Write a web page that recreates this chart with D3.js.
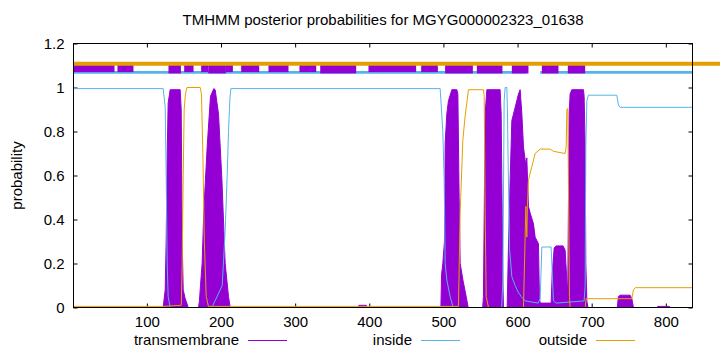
<!DOCTYPE html>
<html><head><meta charset="utf-8">
<script src="https://cdn.jsdelivr.net/npm/d3@7/dist/d3.min.js"></script>
<style>
body{margin:0;background:#fff}
text{font-family:"Liberation Sans",Arial,sans-serif;font-size:15px;fill:#000}
</style>
</head><body>
<svg id="chart" width="720" height="352"></svg>
<script>
const chartTitle = "TMHMM posterior probabilities for MGYG000002323_01638";
const yAxisTitle = "probability";
const seqRange = [1, 836];
const xTicks = [100, 200, 300, 400, 500, 600, 700, 800];
const yTicks = [0, 0.2, 0.4, 0.6, 0.8, 1, 1.2];
const yTickLabels = ["0", "0.2", "0.4", "0.6", "0.8", "1", "1.2"];
const legendLabels = ["transmembrane", "inside", "outside"];

// posterior probabilities: [position, probability]
const insideProb = [[1,0.995],[122,0.995],[124.7,0.91],[126,0.6],[127.4,0.2],[128.7,0.05],[131.4,0],[187.7,0],[201.6,0.1],[205.6,0.35],[208.3,0.6],[210.1,0.8],[212,0.95],[213.3,0.995],[495.6,0.995],[499.2,0.8],[501,0.58],[502.4,0.2],[504.6,0.125],[509.1,0.05],[513.1,0],[578.6,0],[580.2,0.12],[581.9,0.94],[583.3,1.0],[585.6,1.0],[586.4,0.88],[587.7,0.58],[589.1,0.27],[592.3,0.14],[596.8,0.1],[600.8,0.07],[604.9,0.05],[610.3,0.03],[627.8,0.02],[630.5,0.04],[632.8,0.275],[645.3,0.275],[648.4,0.03],[652.1,0.02],[689.8,0.03],[691.2,0.1],[692.1,0.73],[693.5,0.94],[695.6,0.965],[733.9,0.965],[736.1,0.92],[738.4,0.91],[836,0.91]];
const outsideProb = [[1,0.005],[122,0.005],[146.4,0.01],[147.6,0.2],[149,0.6],[150.3,0.9],[152,0.97],[154,1.0],[171.9,1.0],[173.6,0.97],[175.5,0.7],[177.5,0.3],[180,0.05],[183,0.005],[520.3,0.005],[522.6,0.43],[526.2,0.76],[529.3,0.87],[533.8,0.99],[554,0.99],[555,0.96],[556.3,0.43],[557.7,0.05],[560.8,0],[608,0],[611.2,0.46],[612.5,0.32],[613.3,0.46],[614.7,0.58],[619.3,0.64],[623.7,0.70],[630.5,0.72],[644,0.72],[648.4,0.71],[664.2,0.70],[665.6,0.73],[666.5,0.9],[667.8,0.905],[668.6,0.58],[670,0.05],[670.9,0],[691.2,0],[692.5,0.04],[754.2,0.04],[756.3,0.08],[758.6,0.09],[836,0.09]];
const tmProb = [[1,0],[121.9,0],[123.3,0.04],[124.7,0.08],[126,0.3],[127.4,0.7],[128.7,0.93],[131.4,0.99],[144.9,0.99],[146.3,0.9],[147.6,0.3],[149,0.08],[151.7,0.04],[154.4,0.015],[155.7,0],[169.6,0],[170.9,0.03],[172.3,0.1],[174.5,0.2],[176.7,0.43],[181.3,0.73],[185.8,0.96],[190.3,0.995],[192.1,0.99],[196.6,0.88],[201.2,0.58],[205.6,0.2],[210.1,0.05],[212.4,0],[385,0],[386,0.01],[396,0.01],[397,0],[496.6,0],[497.5,0.15],[499.2,0.2],[501.4,0.3],[502.4,0.75],[504.6,0.88],[506.8,0.94],[511.4,0.99],[518.1,0.99],[519.5,0.97],[521.2,0.5],[522.6,0.2],[526.6,0.12],[530.7,0.05],[533.4,0],[553,0],[554,0.05],[556.3,0.88],[558.6,0.99],[576.5,0.99],[577.9,0.88],[580.2,0.12],[581,0],[586,0],[587.7,0.27],[590,0.58],[592.3,0.85],[596.8,0.91],[601.2,0.97],[603.5,0.99],[605.8,0.88],[608,0.73],[611,0.65],[612.5,0.68],[614.7,0.46],[617,0.43],[621.5,0.38],[623.7,0.32],[628.2,0.29],[629.5,0.05],[630.5,0.02],[645.3,0.02],[646.7,0.15],[649.4,0.27],[652.1,0.28],[661.5,0.28],[664.2,0.26],[666.9,0.1],[667.8,0.1],[669.6,0.88],[670.9,0.97],[673.2,0.99],[688.9,0.99],[689.8,0.96],[691.2,0.73],[692.1,0.2],[693.5,0.03],[695,0],[734.6,0],[736,0.05],[738.4,0.056],[751.9,0.056],[754.2,0.04],[756.3,0],[788,0],[789,0.005],[805,0.005],[806,0],[836,0]];

// topology annotation along the top: [start, end]
const topoOutsideSpans = [[1, 880]];
const topoInsideSpans = [[1, 612.4], [630.5, 836]];
const topoTMSpans = [[129.1,145.9],[182.7,206.6],[333.8,382.3],[502.3,539.7],[545.1,579.6],[592.3,614.7],[632.8,655.2],[667.8,691.2]];
const topoOtherSpans = [[1,56.3],[60.3,81.9],[150.3,162.9],[173.2,182.7],[206.6,216],[227.2,251.5],[264,291],[305.8,328.4],[398.9,463.2],[470,492.5]];
const topoLevels = {outside: 1.108, inside: 1.069, boxLow: 1.070, boxHigh: 1.104, tmLow: 1.064, tmHigh: 1.113};

const colors = {tm: "#9400d3", inside: "#56b4e9", outside: "#e69f00"};

const svg = d3.select("#chart");
const L = 73.5, R = 692.5, T = 43.5, B = 307.5;
const x = d3.scaleLinear().domain(seqRange).range([L, R]);
const y = d3.scaleLinear().domain([0, 1.2]).range([B, T]);

svg.append("defs").append("clipPath").attr("id", "plotclip")
  .append("rect").attr("x", L).attr("y", T).attr("width", R - L).attr("height", B - T);

// title
svg.append("text").attr("x", (L + R) / 2).attr("y", 25).attr("text-anchor", "middle").text(chartTitle);
// y axis title
svg.append("text").attr("transform", `translate(22,${(T + B) / 2}) rotate(-90)`)
  .attr("text-anchor", "middle").text(yAxisTitle);

// axes with inward ticks (mirrored)
const xAxis = svg.append("g").attr("transform", `translate(0,${B})`)
  .call(d3.axisBottom(x).tickValues(xTicks).tickSizeInner(-4).tickSizeOuter(0).tickPadding(9));
const xAxisTop = svg.append("g").attr("transform", `translate(0,${T})`)
  .call(d3.axisTop(x).tickValues(xTicks).tickSizeInner(-4).tickSizeOuter(0).tickFormat(""));
const yAxis = svg.append("g").attr("transform", `translate(${L},0)`)
  .call(d3.axisLeft(y).tickValues(yTicks).tickSizeInner(-4).tickSizeOuter(0).tickPadding(9)
    .tickFormat((d, i) => yTickLabels[i]));
const yAxisR = svg.append("g").attr("transform", `translate(${R},0)`)
  .call(d3.axisRight(y).tickValues(yTicks).tickSizeInner(-4).tickSizeOuter(0).tickFormat(""));
[xAxis, xAxisTop, yAxis, yAxisR].forEach(g => {
  g.select(".domain").remove();
  g.selectAll(".tick line").attr("stroke", "#000");
  g.selectAll("text").attr("font-family", "Liberation Sans, Arial, sans-serif").attr("font-size", 15).attr("fill", "#000");
});

const plot = svg.append("g").attr("clip-path", "url(#plotclip)");

// transmembrane (filled impulses)
plot.append("path").datum(tmProb)
  .attr("fill", colors.tm).attr("stroke", colors.tm).attr("stroke-width", 1)
  .attr("d", d3.area().x(d => x(d[0])).y0(y(0)).y1(d => y(d[1])));
// inside
plot.append("path").datum(insideProb)
  .attr("fill", "none").attr("stroke", colors.inside).attr("stroke-width", 1)
  .attr("d", d3.line().x(d => x(d[0])).y(d => y(d[1])));
// outside
plot.append("path").datum(outsideProb)
  .attr("fill", "none").attr("stroke", colors.outside).attr("stroke-width", 1)
  .attr("d", d3.line().x(d => x(d[0])).y(d => y(d[1])));

// topology annotation
svg.selectAll(".topoOut").data(topoOutsideSpans).enter().append("line")
  .attr("x1", d => x(d[0])).attr("x2", d => x(d[1]))
  .attr("y1", y(topoLevels.outside)).attr("y2", y(topoLevels.outside))
  .attr("stroke", colors.outside).attr("stroke-width", 4);
plot.selectAll(".topoIn").data(topoInsideSpans).enter().append("line")
  .attr("x1", d => x(d[0])).attr("x2", d => x(d[1]))
  .attr("y1", y(topoLevels.inside)).attr("y2", y(topoLevels.inside))
  .attr("stroke", colors.inside).attr("stroke-width", 2.8);
plot.selectAll(".topoBox").data(topoOtherSpans).enter().append("rect")
  .attr("x", d => x(d[0])).attr("width", d => x(d[1]) - x(d[0]))
  .attr("y", y(topoLevels.boxHigh)).attr("height", y(topoLevels.boxLow) - y(topoLevels.boxHigh))
  .attr("fill", colors.tm);
plot.selectAll(".topoTM").data(topoTMSpans).enter().append("rect")
  .attr("x", d => x(d[0])).attr("width", d => x(d[1]) - x(d[0]))
  .attr("y", y(topoLevels.tmHigh)).attr("height", y(topoLevels.tmLow) - y(topoLevels.tmHigh))
  .attr("fill", colors.tm);

// border
svg.append("rect").attr("x", L).attr("y", T).attr("width", R - L).attr("height", B - T)
  .attr("fill", "none").attr("stroke", "#000").attr("stroke-width", 1);

// legend
const legendEnds = [239, 412, 587];
const legendColors = [colors.tm, colors.inside, colors.outside];
legendLabels.forEach((lab, i) => {
  svg.append("text").attr("x", legendEnds[i]).attr("y", 345).attr("text-anchor", "end").text(lab);
  svg.append("line").attr("x1", legendEnds[i] + 9).attr("x2", legendEnds[i] + 48)
    .attr("y1", 340.5).attr("y2", 340.5).attr("stroke", legendColors[i]).attr("stroke-width", 1);
});
</script>
</body></html>
